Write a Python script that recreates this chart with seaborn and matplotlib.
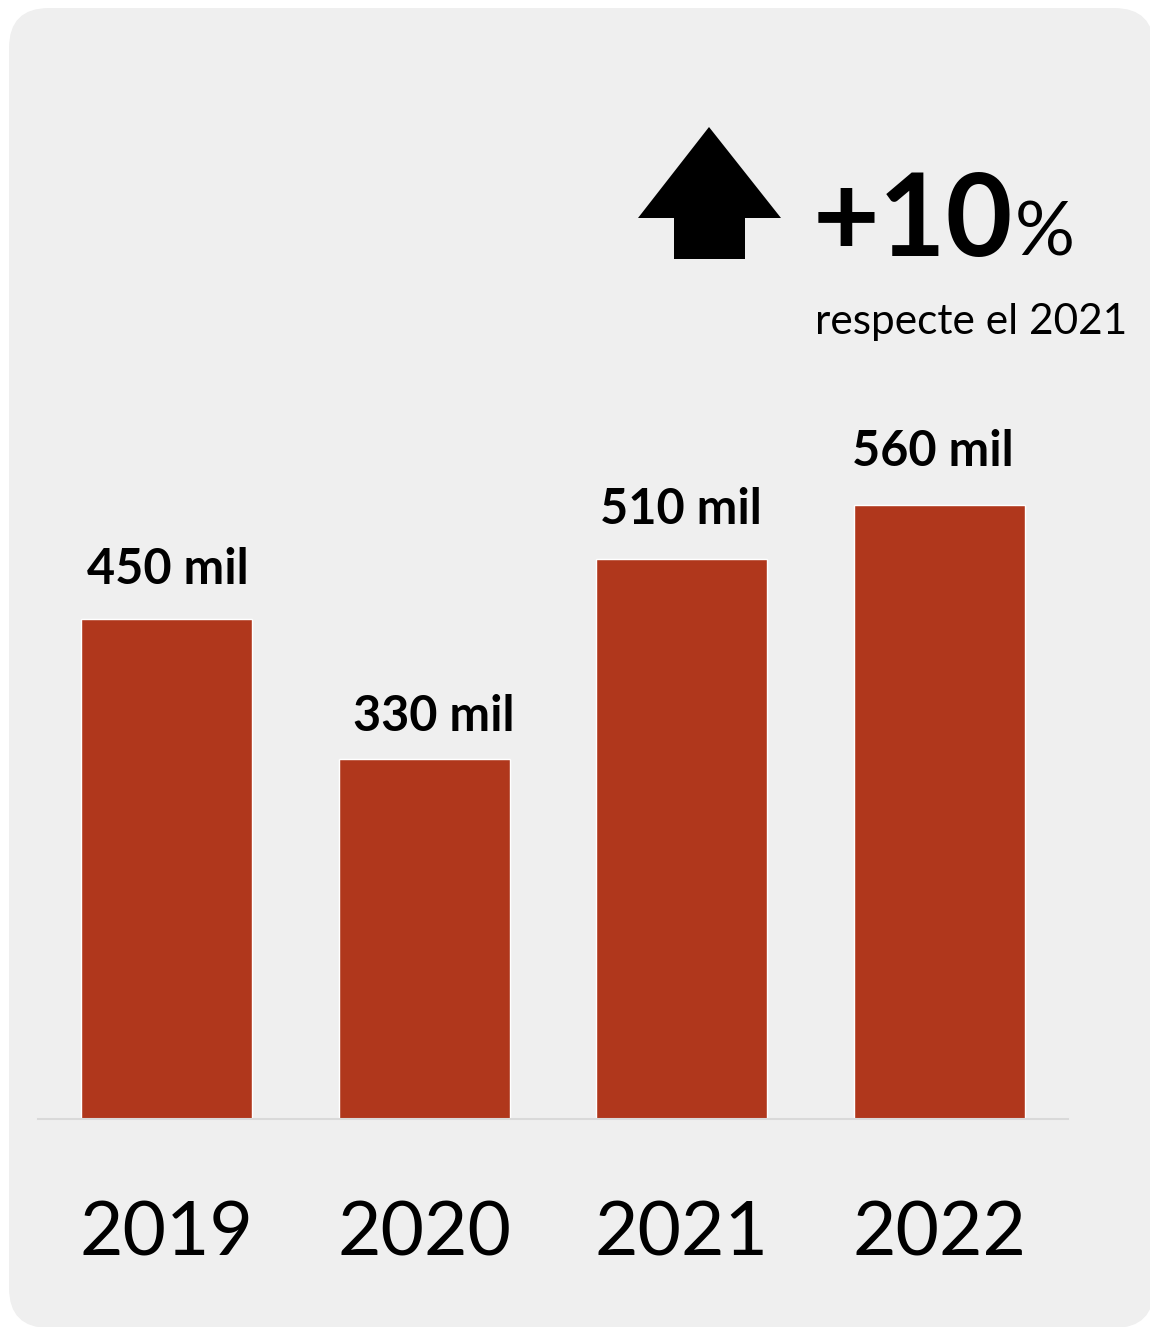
import matplotlib
matplotlib.use("Agg")
import matplotlib.pyplot as plt
from matplotlib.patches import FancyBboxPatch, Polygon
import seaborn as sns

# Datos
anys = ['2019', '2020', '2021', '2022']
visitants = [455, 327, 509, 558]
etiquetes = ['450 mil', '330 mil', '510 mil', '560 mil']

# Desplazamiento de cada etiqueta respecto a su barra (píxeles)
desp_x = [1.5, 9.5, -1, -6]
desp_y = [34, 28, 35, 39]

COLOR_BARRA = '#b0371c'
COLOR_FONS = '#efefef'

sns.set_theme(style="white")
plt.rcParams['font.family'] = ['Lato', 'DejaVu Sans']
plt.rcParams['text.color'] = 'black'

W, H = 1150, 1327
fig = plt.figure(figsize=(W / 100, H / 100), dpi=100)
fig.patch.set_facecolor('white')

# Capa de fondo en coordenadas de píxel
fons = fig.add_axes([0, 0, 1, 1])
fons.set_xlim(0, W)
fons.set_ylim(H, 0)
fons.axis('off')
fons.set_zorder(0)
fons.add_patch(FancyBboxPatch((9, 8), 1145, 1320, boxstyle="round,pad=0,rounding_size=40",
                              facecolor=COLOR_FONS, edgecolor='none'))

# Flecha y texto del incremento
fletxa = [(709, 127), (781, 218), (745, 218), (745, 259), (674, 259), (674, 218), (638, 218)]
fons.add_patch(Polygon(fletxa, closed=True, facecolor='black', edgecolor='none'))
t10 = fons.text(813, 256, '+10', fontsize=83, fontweight='bold', ha='left', va='baseline',
                color='black')
fig.canvas.draw()
bb = t10.get_window_extent()
x_pct = bb.x1 + 1
fons.text(x_pct, 256, '%', fontsize=54, ha='left', va='baseline', color='black')
fons.text(815, 334, 'respecte el 2021', fontsize=30.5, ha='left', va='baseline', color='black')

# Gráfico de barras
ax = fig.add_axes([38 / W, (H - 1119) / H, 1030 / W, 719 / H])
ax.set_zorder(1)
ax.patch.set_alpha(0)
sns.barplot(x=anys, y=visitants, color=COLOR_BARRA, saturation=1, width=0.665, ax=ax)
ax.set_xlim(-0.5, 3.5)
ax.set_ylim(0, 719 / 1.1)

for i, v in enumerate(visitants):
    ax.annotate(etiquetes[i], (i, v), xytext=(desp_x[i] * 0.72, desp_y[i] * 0.72),
                textcoords='offset points', ha='center', va='baseline',
                fontsize=35, fontweight='bold', color='black')

for s in ['top', 'right', 'left']:
    ax.spines[s].set_visible(False)
ax.spines['bottom'].set_color('#d9d9d9')
ax.spines['bottom'].set_linewidth(1.5)
ax.set_yticks([])
ax.set_xlabel('')
ax.set_ylabel('')
ax.tick_params(axis='x', length=0, pad=58, labelsize=54, colors='black')

plt.savefig('out.png', dpi=100)
